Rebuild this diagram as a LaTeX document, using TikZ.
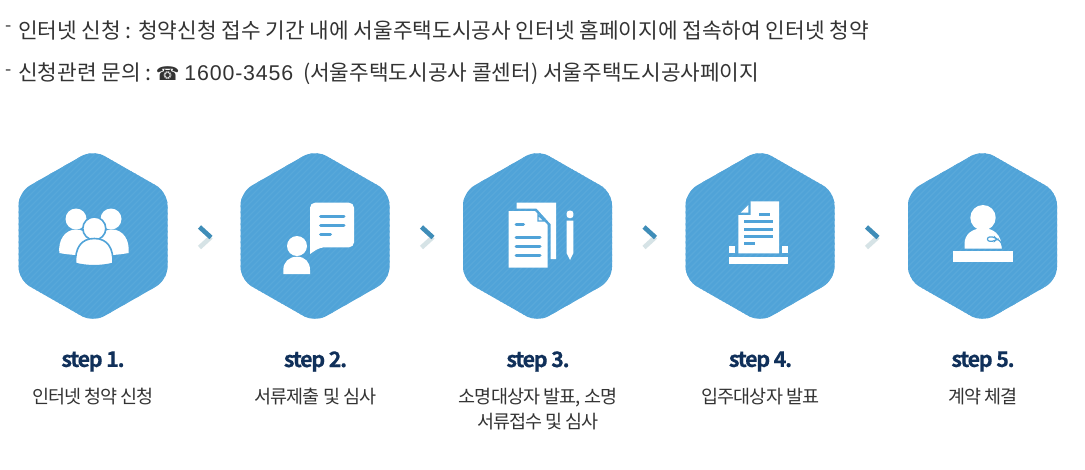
\documentclass[tikz,border=0pt]{standalone}
\usepackage{fontspec}
\setmainfont{Noto Sans CJK KR}
\newfontfamily\symfont{DejaVu Sans}
\newfontfamily\numfont[LetterSpace=4]{Liberation Sans}
\newfontfamily\labfont[LetterSpace=-5]{Noto Sans CJK KR}
\newfontfamily\stepfont[LetterSpace=-6,FakeBold=0.4]{Noto Sans CJK KR Bold}
\definecolor{hexblue}{HTML}{50A3D8}
\definecolor{hexstripe}{HTML}{58A8DA}
\definecolor{textdark}{HTML}{333333}
\definecolor{stepnavy}{HTML}{10305A}
\definecolor{chevblue}{HTML}{3F8DB8}
\definecolor{chevgrey}{HTML}{D6E3E6}
\tikzset{
  toptext/.style={anchor=west,inner sep=0pt,text=textdark,font=\fontsize{21.35}{24}\selectfont},
  dashmark/.style={anchor=center,inner sep=0pt,text=textdark,font=\fontsize{18}{18}\selectfont},
  steptitle/.style={anchor=center,inner sep=0pt,text=stepnavy,font=\stepfont\fontsize{21.5}{24}\selectfont},
  steplabel/.style={anchor=north,inner sep=0pt,align=center,text=textdark,font=\labfont\fontsize{18.5}{25}\selectfont},
  iconline/.style={draw=hexblue,line width=3pt,line cap=round},
  chevtop/.style={draw=chevblue,line width=4.6pt},
  chevbot/.style={draw=chevgrey,line width=4.6pt}
}
\newcommand{\hexbase}[1]{%
  \begin{scope}[shift={(#1)}]
    \clip[rounded corners=13pt] (0,-86.5) -- (74.5,-44) -- (74.5,44) -- (0,86.5) -- (-74.5,44) -- (-74.5,-44) -- cycle;
    \fill[hexblue] (-80,-90) rectangle (80,90);
    \foreach \k in {-170,-164,...,170}{
      \draw[hexstripe,line width=1.4pt] (\k-95,95) -- (\k+95,-95);
    }
  \end{scope}}
\newcommand{\chevron}[1]{%
  \begin{scope}[shift={(#1)}]
    \draw[chevbot] (118,1) -- (106.5,11.5);
    \draw[chevtop] (106.5,-9) -- (118,1.5);
  \end{scope}}
\begin{document}
\begin{tikzpicture}[x=1pt,y=-1pt]
\useasboundingbox (0,0) rectangle (1085,469);
\fill[white] (0,0) rectangle (1085,469);

\node[dashmark] (d1) at (9,29) {-};
\node[dashmark] (d2) at (9,73) {-};
\node[toptext] (line1) at (18,30) {인터넷 신청 : 청약신청 접수 기간 내에 서울주택도시공사 인터넷 홈페이지에 접속하여 인터넷 청약};
\node[toptext] (line2) at (18,74) {신청관련 문의 : \hspace{-2pt}{\symfont\fontsize{19}{24}\selectfont ☎} {\numfont 1600-3456}\hspace{5pt} (서울주택도시공사 콜센터) 서울주택도시공사페이지};

\coordinate (h1) at (93,236);
\coordinate (h2) at (315,236);
\coordinate (h3) at (537.5,236);
\coordinate (h4) at (760,236);
\coordinate (h5) at (982.5,236);

\foreach \c in {h1,h2,h3,h4,h5}{\hexbase{\c}}
\foreach \c in {h1,h2,h3,h4}{\chevron{\c}}

% icon 1: group of people
\begin{scope}[shift={(h1)}]
  \fill[white] (-17,-17) circle[radius=10.5pt];
  \fill[white] (18,-17) circle[radius=10.5pt];
  \fill[white] (-33.7,17) .. controls (-35,4) and (-28,-6.5) .. (-17,-6.5) .. controls (-6,-6.5) and (0,4) .. (0,10) -- (-14,19) .. controls (-22,19) and (-28,18) .. (-33.7,17) -- cycle;
  \fill[white] (35.5,17) .. controls (37,4) and (30,-6.5) .. (19,-6.5) .. controls (8,-6.5) and (2,4) .. (2,10) -- (16,19) .. controls (24,19) and (30,18) .. (35.5,17) -- cycle;
  \filldraw[fill=white,draw=hexblue,line width=1.6pt] (1.3,-7.5) circle[radius=11.5pt];
  \filldraw[fill=white,draw=hexblue,line width=1.6pt] (-17.5,27.5) .. controls (-18,12) and (-12,2.5) .. (1.3,2.5) .. controls (14.5,2.5) and (20.5,12) .. (20,27.5) .. controls (8,30.5) and (-6,30.5) .. (-17.5,27.5) -- cycle;
\end{scope}

% icon 2: person with speech bubble
\begin{scope}[shift={(h2)}]
  \fill[white,rounded corners=5pt] (-5,-33.3) -- (39,-33.3) -- (39,11.3) -- (5,11.3) [sharp corners] -- (-5,18) [rounded corners=5pt] -- cycle;
  \draw[iconline] (5.5,-20) -- (29,-20);
  \draw[iconline] (5.5,-11) -- (29,-11);
  \draw[iconline] (5.5,-2) -- (15.5,-2);
  \fill[white] (-18,10) circle[radius=10pt];
  \fill[white] (-31.7,38) -- (-31.7,34) .. controls (-31.7,26) and (-26,20.7) .. (-18,20.7) .. controls (-10,20.7) and (-5,26) .. (-5,34) -- (-5,38) -- cycle;
\end{scope}

% icon 3: documents and pencil
\begin{scope}[shift={(h3)}]
  \fill[white] (-20.8,-33.3) -- (18.5,-33.3) -- (18.5,23) -- (13,23) -- (13,-12) -- (-1,-27.5) -- (-20.8,-27.5) -- cycle;
  \fill[white] (-29,-25) -- (-2.5,-25) -- (10.2,-11) -- (10.2,31.7) -- (-29,31.7) -- cycle;
  \draw[draw=hexblue,line width=1.3pt,fill=hexblue!15!white] (0.5,-21) -- (0.5,-15) -- (7,-15) -- cycle;
  \draw[iconline] (-21.5,-12) -- (-14,-12);
  \draw[iconline] (-21.5,1.3) -- (2.5,1.3);
  \draw[iconline] (-21.5,10.7) -- (2.5,10.7);
  \draw[iconline] (-21.5,19.7) -- (2.5,19.7);
  \fill[white,rounded corners=2.5pt] (29.2,-18) -- (29.2,-25.3) -- (35.8,-25.3) -- (35.8,-18) -- cycle;
  \fill[white] (29.2,-15.5) -- (35.8,-15.5) -- (35.8,17.3) -- (32.5,24) -- (29.2,17.3) -- cycle;
\end{scope}

% icon 4: document in tray
\begin{scope}[shift={(h4)}]
  \fill[white] (-9.3,-34.7) -- (19,-34.7) -- (19,17.3) -- (-21.7,17.3) -- (-21.7,-21) -- (-9.3,-21) -- cycle;
  \fill[white] (-11.7,-31) -- (-11.7,-23.3) -- (-19.3,-23.3) -- cycle;
  \draw[iconline,line cap=butt] (-0.7,-22) -- (10,-22);
  \draw[iconline,line cap=butt] (-15.7,-14.3) -- (13.3,-14.3);
  \draw[iconline,line cap=butt] (-15.7,-7) -- (13.3,-7);
  \draw[iconline,line cap=butt] (-15.7,0.3) -- (13.3,0.3);
  \draw[iconline,line cap=butt] (-15.7,7.7) -- (-5,7.7);
  \fill[white] (-30.7,9.7) rectangle (-25,17.3);
  \fill[white] (22.3,9.7) rectangle (28,17.3);
  \fill[white] (-30.7,20.7) rectangle (28,28);
\end{scope}

% icon 5: speaker at desk
\begin{scope}[shift={(h5)}]
  \fill[white] (0.5,-18.3) circle[radius=12.7pt];
  \fill[white] (-18,12.7) -- (-18,8) .. controls (-18,-2) and (-10,-7.7) .. (0.5,-7.7) .. controls (11,-7.7) and (19,-2) .. (19.5,12.7) -- cycle;
  \draw[draw=hexblue,line width=1.2pt,fill=white,rounded corners=2pt] (5,1) -- (12,1) -- (14.5,3.2) -- (12,5.2) -- (5,5.2) -- cycle;
  \draw[draw=hexblue,line width=1.2pt] (14,3.2) .. controls (18,4) and (20,8) .. (20,12.7);
  \fill[white] (-29.5,14.7) rectangle (30.8,25.7);
\end{scope}

% labels
\node[steptitle] (s1) at (93,361.5) {step 1.};
\node[steptitle] (s2) at (315.5,361.5) {step 2.};
\node[steptitle] (s3) at (538,361.5) {step 3.};
\node[steptitle] (s4) at (760.5,361.5) {step 4.};
\node[steptitle] (s5) at (983,361.5) {step 5.};
\node[steplabel] (l1) at (93,387.5) {인터넷 청약 신청};
\node[steplabel] (l2) at (315.5,387.5) {서류제출 및 심사};
\node[steplabel] (l3) at (538,387.5) {소명대상자 발표, 소명\\서류접수 및 심사};
\node[steplabel] (l4) at (760.5,387.5) {입주대상자 발표};
\node[steplabel] (l5) at (983,387.5) {계약 체결};
\end{tikzpicture}
\end{document}
